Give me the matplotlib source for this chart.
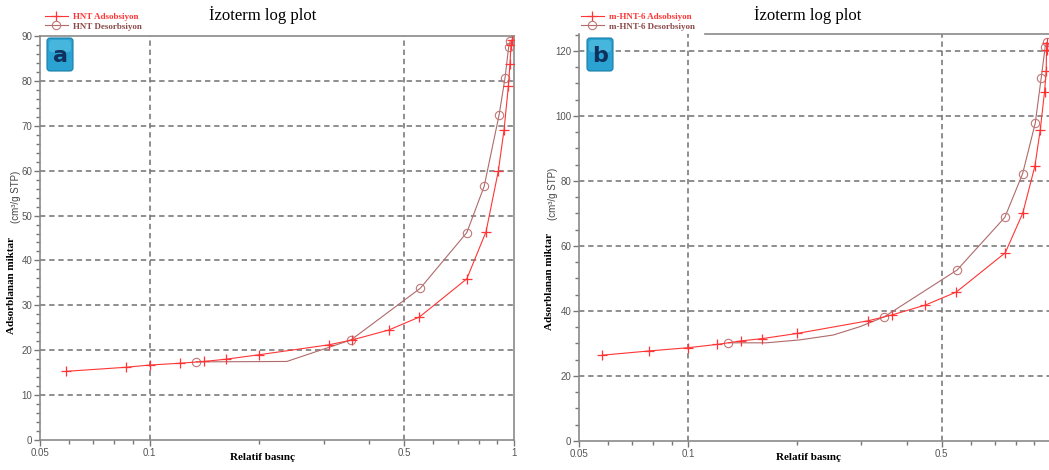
import numpy as np
import matplotlib.pyplot as plt
from matplotlib.patches import FancyBboxPatch
from matplotlib.ticker import FixedLocator, MultipleLocator, NullFormatter

# HNT izotermi (a)
hnt_ads_p = [0.059, 0.086, 0.100, 0.121, 0.141, 0.162, 0.200, 0.310, 0.360, 0.453,
             0.550, 0.742, 0.838, 0.906, 0.939, 0.965, 0.975, 0.981, 0.985]
hnt_ads_v = [15.3, 16.2, 16.7, 17.1, 17.5, 18.0, 19.0, 21.2, 22.3, 24.5,
             27.4, 35.9, 46.4, 60.0, 69.1, 78.8, 83.8, 88.0, 89.1]
hnt_des_p = [0.976, 0.967, 0.945, 0.910, 0.828, 0.742, 0.553, 0.357, 0.238, 0.134]
hnt_des_v = [88.8, 87.6, 80.7, 72.4, 56.5, 46.2, 33.8, 22.3, 17.5, 17.4]
hnt_des_marks = [0, 1, 2, 3, 4, 5, 6, 7, 9]

# m-HNT-6 izotermi (b)
mhnt_ads_p = [0.058, 0.078, 0.100, 0.120, 0.140, 0.160, 0.200, 0.314, 0.365, 0.450,
              0.548, 0.748, 0.836, 0.903, 0.934, 0.960, 0.970, 0.972, 0.974]
mhnt_ads_v = [26.4, 27.7, 28.7, 29.7, 30.8, 31.5, 33.1, 37.0, 38.8, 41.8,
              45.8, 57.9, 70.1, 84.6, 95.7, 107.5, 113.9, 120.3, 122.4]
mhnt_des_p = [0.974, 0.964, 0.940, 0.905, 0.835, 0.746, 0.551, 0.347,
              0.298, 0.251, 0.203, 0.164, 0.129]
mhnt_des_v = [122.6, 121.3, 111.8, 97.8, 82.2, 68.8, 52.6, 38.2,
              35.2, 32.6, 31.1, 30.2, 30.2]
mhnt_des_marks = [0, 1, 2, 3, 4, 5, 6, 7, 12]

x_major = [0.05, 0.1, 0.5, 1]
x_labels = ["0.05", "0.1", "0.5", "1"]
x_minor = [0.06, 0.07, 0.08, 0.09, 0.2, 0.3, 0.4, 0.6, 0.7, 0.8, 0.9]

ADS = "#ff3535"
DES = "#b06a6a"
W, H = 1049, 470

fig = plt.figure(figsize=(W / 100, H / 100), dpi=100)


def fx(px):
    return px / W


def fy(py):
    return 1 - py / H


def ciz(ax, ads_p, ads_v, des_p, des_v, des_marks, ymax, ystep, ygrid, yminor, etiket):
    ax.plot(ads_p, ads_v, color=ADS, lw=0.8, marker="+", ms=7, mew=0.9, zorder=4)
    ax.plot(des_p, des_v, color=DES, lw=0.8, marker="o", ms=6, mfc="none",
            mec="#c07878", mew=0.8, markevery=des_marks, zorder=3)
    ax.set_xscale("log")
    ax.set_xlim(0.05, 1)
    ax.set_ylim(0, ymax)
    ax.xaxis.set_major_locator(FixedLocator(x_major))
    ax.set_xticklabels(etiket)
    ax.xaxis.set_minor_locator(FixedLocator(x_minor))
    ax.xaxis.set_minor_formatter(NullFormatter())
    ax.yaxis.set_major_locator(MultipleLocator(ystep))
    ax.yaxis.set_minor_locator(MultipleLocator(yminor))
    for g in ygrid:
        ax.axhline(g, color="#707070", lw=1.1, ls=(0, (3.5, 2.5)), zorder=1)
    for g in [0.1, 0.5]:
        ax.axvline(g, color="#707070", lw=1.1, ls=(0, (3.5, 2.5)), zorder=1)
    ax.tick_params(which="both", direction="out", colors="#777777",
                   labelcolor="#555555", labelsize=7, pad=1.5)
    ax.tick_params(which="major", length=4, width=1)
    ax.tick_params(which="minor", length=3, width=1)
    for s in ax.spines.values():
        s.set_color("#8a8a8a")
        s.set_linewidth(1.2)
    for lab in ax.get_xticklabels() + ax.get_yticklabels():
        lab.set_family("Liberation Sans")


ax1 = fig.add_axes([fx(40), fy(440), fx(514 - 40), (440 - 36) / H])
ciz(ax1, hnt_ads_p, hnt_ads_v, hnt_des_p, hnt_des_v, hnt_des_marks,
    90, 10, range(10, 90, 10), 2, x_labels)

# sag panelin 1 etiketi sayfa kenarinin disinda kaliyor
ax2 = fig.add_axes([fx(579), fy(441), fx(1051 - 579), (441 - 34) / H])
ciz(ax2, mhnt_ads_p, mhnt_ads_v, mhnt_des_p, mhnt_des_v, mhnt_des_marks,
    125.2, 20, range(20, 121, 20), 5, x_labels[:3] + [""])
ax2.spines["top"].set_bounds(0.111, 1)

serif = "Liberation Serif"

for ax, cx, ad in [(ax1, 263, "HNT"), (ax2, 808, "m-HNT-6")]:
    fig.text(fx(cx), fy(15), "İzoterm log plot", family=serif, fontsize=12,
             ha="center", va="center")
    fig.text(fx(cx), fy(458), "Relatif basınç", family=serif, fontsize=8,
             weight="bold", ha="center", va="center")
    h = ax.get_lines()
    x0 = 40 if ax is ax1 else 576
    leg = fig.legend(h[:2], [ad + " Adsobsiyon", ad + " Desorbsiyon"],
                     loc="upper left", bbox_to_anchor=(fx(x0), fy(8)),
                     frameon=False, handlelength=2.6, handletextpad=0.6,
                     labelspacing=0.15, borderpad=0,
                     prop={"family": serif, "weight": "bold", "size": 6.5})
    leg.get_texts()[0].set_color(ADS)
    leg.get_texts()[1].set_color("#8b4a4a")

for xb, xs, cy in [(12, 16, 285), (549, 553, 282)]:
    fig.text(fx(xb), fy(cy), "Adsorblanan miktar", family=serif, fontsize=8,
             weight="bold", rotation=90, ha="center", va="center")
    fig.text(fx(xs), fy(cy - 88), "(cm³/g STP)", family="Liberation Sans",
             fontsize=7, color="#444444", rotation=90, ha="center", va="center")

# panel harfleri
for x0, harf in [(47, "a"), (587, "b")]:
    kutu = FancyBboxPatch((x0 / 100 + 0.01, (H - 71) / 100 + 0.01), 0.24, 0.31,
                          boxstyle="round,pad=0.01,rounding_size=0.03",
                          transform=fig.dpi_scale_trans, fc="#2aa3d2",
                          ec="#1a7fa8", lw=0.8, zorder=10)
    fig.add_artist(kutu)
    ust = FancyBboxPatch((x0 / 100 + 0.02, (H - 71) / 100 + 0.19), 0.22, 0.12,
                         boxstyle="round,pad=0.0,rounding_size=0.03",
                         transform=fig.dpi_scale_trans, fc="#5cc4e6",
                         ec="none", alpha=0.6, zorder=10)
    fig.add_artist(ust)
    fig.text((x0 + 13.5) / W, fy(56), harf, family="DejaVu Sans", weight="bold",
             fontsize=16, color="#10305e", ha="center", va="center", zorder=11)

fig.savefig("out.png", dpi=100)
